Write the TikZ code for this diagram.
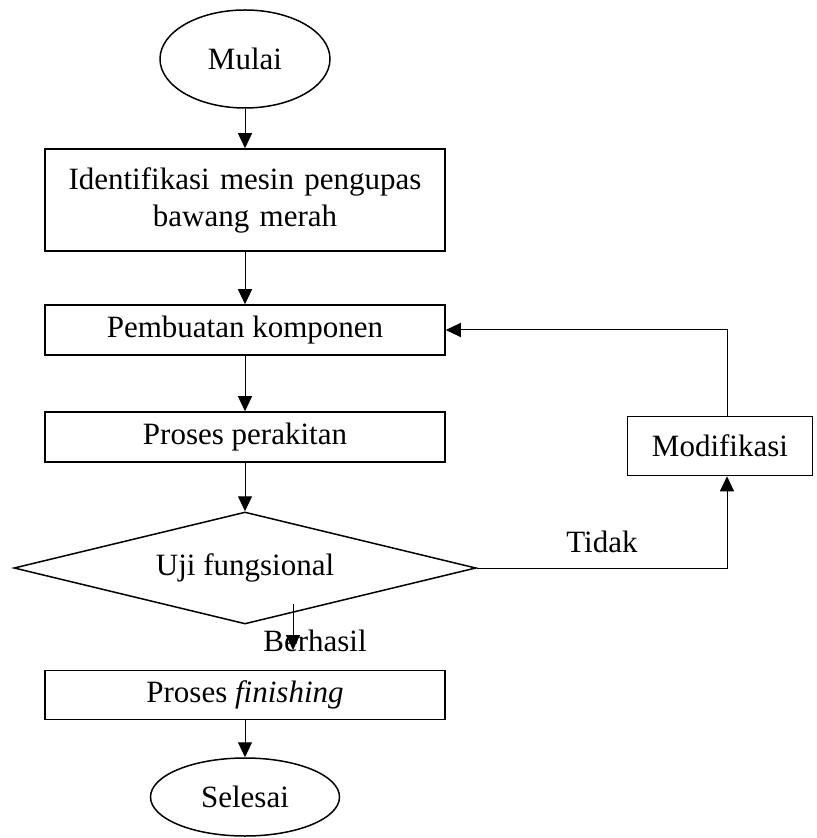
\documentclass[tikz,border=0pt]{standalone}
\usepackage{fontspec}
\setmainfont{Liberation Serif}
\usetikzlibrary{shapes.geometric,arrows.meta}

\begin{document}
\fontsize{15.5}{18.5}\selectfont
\begin{tikzpicture}[node distance=65pt, auto,
	kotak/.style={draw, line width=0.75pt, minimum width=200pt, minimum height=25pt, inner sep=2pt},
	elips/.style={draw, ellipse, line width=0.75pt, inner sep=0pt},
	keputusan/.style={draw, diamond, aspect=4.1, line width=0.75pt, minimum width=231pt, minimum height=56pt, inner sep=0pt},
	>={Triangle[length=7.5pt,width=7pt]}, line width=0.5pt]
	\useasboundingbox (0,0) rectangle (408pt,-419pt);
	\node (1) [elips, minimum width=85pt, minimum height=49pt] at (122.5pt,-29.5pt) {Mulai};
	\node (2) [kotak, below of=1, node distance=70.5pt, minimum height=51pt, text width=190pt, align=center] {Identifikasi mesin pengupas\\bawang merah};
	\node (3) [kotak, below of=2] {Pembuatan komponen};
	\node (4) [kotak, below of=3, node distance=53.5pt] {Proses perakitan};
	\node (5) [keputusan, below of=4, node distance=65.5pt] {Uji fungsional};
	\node (6) [kotak, below of=5, node distance=63.5pt, minimum height=24.5pt] {Proses \textit{finishing}};
	\node (7) [elips, below of=6, node distance=51pt, minimum width=94.5pt, minimum height=39pt] {Selesai};
	\node (8) [draw, line width=0.75pt, right of=5, node distance=237.5pt, yshift=61pt, minimum width=92.5pt, minimum height=29.5pt] {Modifikasi};
	\node (9) at ([xshift=35pt,yshift=-36.5pt]5.center) {Berhasil};
	\coordinate (b1) at ([xshift=24pt,yshift=-18pt]5.center);
	\coordinate (b2) at ([xshift=24pt,yshift=-41pt]5.center);
	
	\draw[->] (1) to (2);
	\draw[->] (2) to (3);
	\draw[->] (3) to (4);
	\draw[->] (4) to (5);
	\draw[->] (b1) to (b2);
	\draw[->] (6) to (7);
	\draw[->] (5) -| node[pos=0.25, yshift=2pt] {Tidak} ([xshift=3.5pt]8.south);
	\draw[->] ([xshift=3.5pt]8.north) |- (3);
\end{tikzpicture}
\end{document}
